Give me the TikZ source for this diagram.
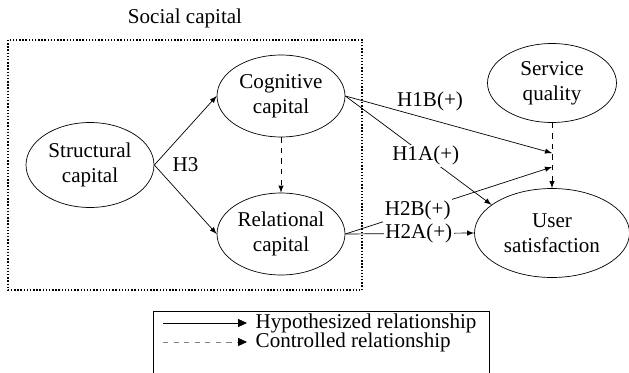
\documentclass[tikz,border=0pt]{standalone}
\usepackage{fontspec}
\setmainfont{Liberation Serif}
\usepackage{tikz}
\usetikzlibrary{arrows,arrows.meta,shapes.geometric}
\usetikzlibrary{positioning}
\tikzstyle{construct} = [ellipse, draw=black, thin, inner sep=0pt, minimum width=2.56cm, minimum height=1.64cm, align=center]
\tikzstyle{hyp} = [->, >=latex, thin, draw=black]
\tikzstyle{ctrl} = [->, >=latex, thin, dashed, draw=black]
\tikzstyle{tag} = [fill=white, inner sep=1pt]
\tikzstyle{keytip} = [-{Triangle[black, length=5pt, width=4.5pt]}, thin]

\begin{document}
\begin{tikzpicture}[x=0.02cm, y=-0.02cm, node distance=1cm, font=\fontsize{12}{14}\selectfont]

\useasboundingbox (0,0) rectangle (629,372);

\node (social) at (185,18) {Social capital};
\draw[densely dotted, line width=0.8pt] (8,40) rectangle (362,290);

\node (str) [construct, minimum height=1.7cm] at (90,165) {Structural\\capital};
\node (cog) [construct] at (281,96) {Cognitive\\capital};
\node (rel) [construct] at (281,234) {Relational\\capital};
\node (serv) [construct, minimum width=2.58cm, minimum height=1.58cm] at (552,83) {Service\\quality};
\node (user) [construct, minimum width=3.1cm, minimum height=1.78cm] at (552,233) {User\\satisfaction};

\node (h3) [right=0.24cm of str.east] {H3};

\coordinate (m1) at (552,153);
\coordinate (m2) at (552,167);

\draw[hyp] (str.east) -- (cog.west);
\draw[hyp] (str.east) -- (rel.west);
\draw[ctrl] (cog.south) -- (rel.north);
\draw[ctrl] (serv.south) -- (user.north);

\draw[hyp] (cog.east) -- node[pos=0.41, above=1pt] {H1B(+)} (m1);
\draw[hyp] (cog.east) -- node[tag, pos=0.55] {H1A(+)} (user.155);
\draw[hyp] (rel.east) -- node[tag, pos=0.35] {H2B(+)} (m2);
\draw[hyp] (rel.east) -- node[tag, pos=0.57] {H2A(+)} (user.west);

\draw[thin] (153,380) |- (489,311) -- (489,380);
\coordinate (l1a) at (163,323);
\coordinate (l1b) at (247,323);
\coordinate (l2a) at (163,342);
\coordinate (l2b) at (247,342);
\draw[keytip] (l1a) -- (l1b);
\draw[keytip, dashed, draw=gray] (l2a) -- (l2b);
\node (hyplabel) [right=0.05cm of l1b] {Hypothesized relationship};
\node (ctrllabel) [right=0.05cm of l2b] {Controlled relationship};

\end{tikzpicture}
\end{document}
